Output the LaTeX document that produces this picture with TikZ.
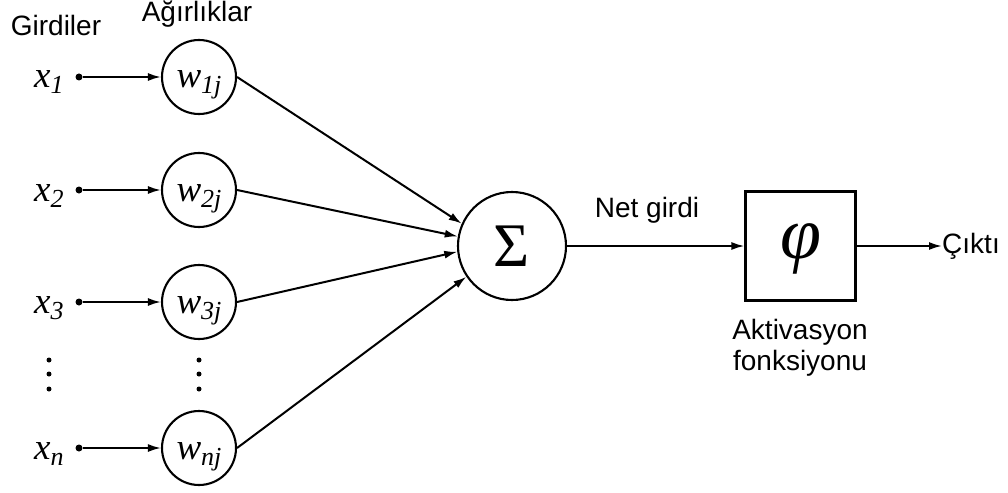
\RequirePackage{fix-cm}
\documentclass[tikz,border=0pt]{standalone}
\usepackage[no-math]{fontspec}
\usetikzlibrary{arrows.meta}
\newfontfamily\labelfont{Liberation Sans}
\newfontfamily\symfont{Liberation Serif}
% italic serif symbol with a lowered, smaller subscript
\newcommand{\symsub}[2]{{\symfont\itshape #1\raisebox{-6pt}{\fontsize{26}{28}\selectfont #2}}}
\begin{document}
\begin{tikzpicture}[x=1pt,y=-1pt,
  txt/.style={font=\labelfont\fontsize{28}{31}\selectfont, inner sep=0pt},
  weight/.style={circle, draw, line width=2.1pt, minimum size=74pt, inner sep=0pt,
    text height=22pt, text depth=0pt, font=\fontsize{37}{40}\selectfont},
  inlabel/.style={anchor=base west, inner sep=0pt, font=\fontsize{37}{40}\selectfont},
  indot/.style={circle, fill, inner sep=0pt, minimum size=7pt},
  vdot/.style={circle, fill, inner sep=0pt, minimum size=5pt},
  wire/.style={line width=2pt, -{Latex[length=13pt,width=8pt]}},
]
\useasboundingbox (0,0) rectangle (1008,492);

% column headings
\node[txt, anchor=base] (hin) at (56,36) {Girdiler};
\node[txt, anchor=base] (hw) at (197,22) {Ağırlıklar};

% inputs and their weights
\foreach \i/\y in {1/77, 2/190, 3/302, n/448} {
  \node[indot] (d\i) at (79,\y) {};
  \node[inlabel] (x\i) at (34,\y+11) {\symsub{x}{\i}};
  \node[weight] (w\i) at (199,\y) {\symsub{w}{\i j}};
  \draw[wire] (d\i) -- (w\i);
}

% vertical ellipses between the third and the last row
\foreach \k/\y in {1/360, 2/374, 3/389} {
  \node[vdot] (va\k) at (49,\y) {};
  \node[vdot] (vb\k) at (199,\y) {};
}

% summing junction
\node[circle, draw, line width=2.1pt, minimum size=108pt, inner sep=0pt,
      font=\symfont\fontsize{62}{64}\selectfont] (sum) at (512,246) {Σ};
\draw[wire] (w1.east) -- (sum.156);
\draw[wire] (w2.east) -- (sum.170);
\draw[wire] (w3.east) -- (sum.186);
\draw[wire] (wn.east) -- (sum.214);

% activation function
\node[draw, line width=2.1pt, minimum width=110pt, minimum height=109pt, inner sep=0pt,
      text height=44pt, text depth=20pt,
      font=\symfont\itshape\fontsize{74}{76}\selectfont]
  (act) at (800.5,246) {φ};
\draw[wire] (sum) -- (act);
\node[txt, anchor=base] (net) at (647,217) {Net girdi};
\node[txt, anchor=base] (act1) at (800,339) {Aktivasyon};
\node[txt, anchor=base] (act2) at (800,370) {fonksiyonu};

% output
\node[txt, anchor=base west] (out) at (942,253) {Çıktı};
\draw[wire] (act.east) -- (act.east -| out.west);
\end{tikzpicture}
\end{document}
